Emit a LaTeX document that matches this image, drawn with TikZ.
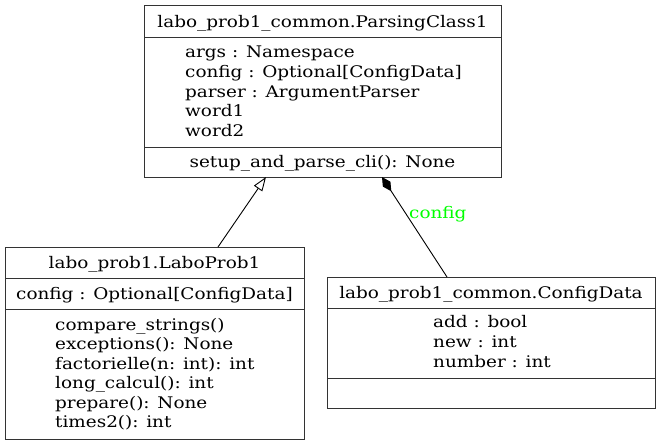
\documentclass[tikz,border=0pt]{standalone}
\usepackage{fontspec}
\setmainfont{DejaVu Serif}[FakeStretch=1.15]
\usetikzlibrary{arrows.meta}
\newcommand{\umlfont}{\fontsize{16}{18}\selectfont}
\begin{document}
\begin{tikzpicture}[x=1pt,y=-1pt,
  box/.style={draw=black!80, line width=1pt, anchor=north west, inner sep=0pt},
  txt/.style={anchor=base west, inner sep=0pt, font=\umlfont},
  ttl/.style={anchor=base, inner sep=0pt, font=\umlfont},
  edge/.style={draw=black, line width=0.9pt}]
\useasboundingbox (0,0) rectangle (661,445);
% ParsingClass1
\node[box, minimum width=357pt, minimum height=32pt] (p1t) at (144,5) {};
\node[box, minimum width=357pt, minimum height=110pt] (p1a) at (144,37) {};
\node[box, minimum width=357pt, minimum height=30pt] (p1m) at (144,147) {};
\node[ttl] (p1name) at (322.5,27) {labo\_prob1\_common.ParsingClass1};
\node[txt] (p1a1) at (185,57) {args : Namespace};
\node[txt] (p1a2) at (185,77) {config : Optional[ConfigData]};
\node[txt] (p1a3) at (185,97) {parser : ArgumentParser};
\node[txt] (p1a4) at (185,116) {word1};
\node[txt] (p1a5) at (185,136) {word2};
\node[ttl] (p1m1) at (322.5,167) {setup\_and\_parse\_cli(): None};
% LaboProb1
\node[box, minimum width=299pt, minimum height=31pt] (lt) at (5,247) {};
\node[box, minimum width=299pt, minimum height=31pt] (la) at (5,278) {};
\node[box, minimum width=299pt, minimum height=130pt] (lm) at (5,309) {};
\node[ttl] (lname) at (154.5,268) {labo\_prob1.LaboProb1};
\node[ttl] (la1) at (154.5,299) {config : Optional[ConfigData]};
\node[txt] (lm1) at (55,330) {compare\_strings()};
\node[txt] (lm2) at (55,349) {exceptions(): None};
\node[txt] (lm3) at (55,369) {factorielle(n: int): int};
\node[txt] (lm4) at (55,388) {long\_calcul(): int};
\node[txt] (lm5) at (55,408) {prepare(): None};
\node[txt] (lm6) at (55,427) {times2(): int};
% ConfigData
\node[box, minimum width=328pt, minimum height=31pt] (ct) at (327,277) {};
\node[box, minimum width=328pt, minimum height=70pt] (ca) at (327,308) {};
\node[box, minimum width=328pt, minimum height=30pt] (cm) at (327,378) {};
\node[ttl] (cname) at (491,298) {labo\_prob1\_common.ConfigData};
\node[txt] (ca1) at (433,327) {add : bool};
\node[txt] (ca2) at (433,347) {new : int};
\node[txt] (ca3) at (433,367) {number : int};
% connectors
\coordinate (inhfrom) at (218,247);
\coordinate (inhto) at (266,177);
\coordinate (compfrom) at (447,277);
\coordinate (compto) at (382,177);
\draw[edge, -{Triangle[open, length=14pt, width=10pt, line width=0.9pt]}] (inhfrom) -- (inhto);
\draw[edge, -{Diamond[length=17pt, width=9pt]}] (compfrom) -- (compto);
\node[anchor=base west, inner sep=0pt, text={rgb,255:red,0;green,255;blue,0}, font=\umlfont] (cfg) at (409,218) {config};
\end{tikzpicture}
\end{document}
